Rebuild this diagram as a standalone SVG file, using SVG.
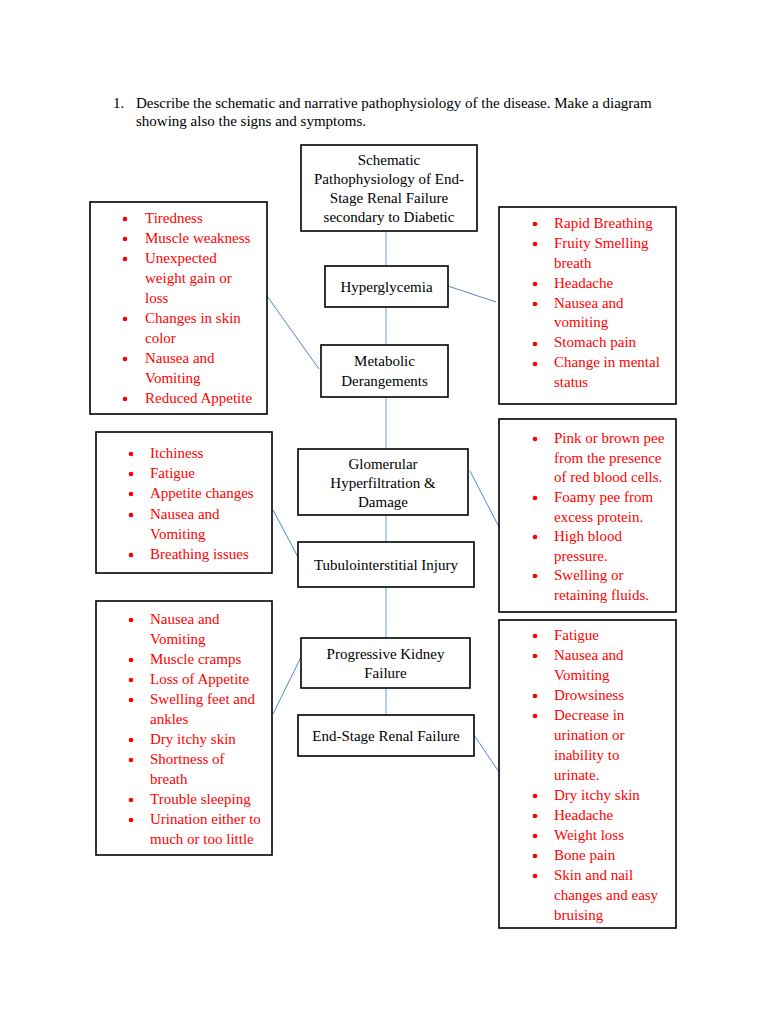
<svg xmlns="http://www.w3.org/2000/svg" width="768" height="1024" viewBox="0 0 768 1024">
<style>
text{font-family:"Liberation Serif","Times New Roman",serif;font-size:15px}
.hd{fill:#000}
.ct{fill:#000;text-anchor:middle}
.rt{fill:#ff0000}
.box{fill:#fff;stroke:#000;stroke-width:1.6}
.vl{stroke:#9dbde6;stroke-width:1.5;fill:none}
.dl{stroke:#5b84cf;stroke-width:1;fill:none}
.bl{fill:#ff0000}
</style>
<rect width="768" height="1024" fill="#fff"/>
<g id="heading">
<text class="hd" x="113" y="108">1.</text>
<text class="hd" x="136" y="108">Describe the schematic and narrative pathophysiology of the disease. Make a diagram</text>
<text class="hd" x="136" y="126">showing also the signs and symptoms.</text>
</g>
<g id="connectors">
<line class="vl" x1="386" y1="232" x2="386" y2="266"/>
<line class="vl" x1="386" y1="307" x2="386" y2="345"/>
<line class="vl" x1="386" y1="397" x2="386" y2="449"/>
<line class="vl" x1="386" y1="515" x2="386" y2="542"/>
<line class="vl" x1="386" y1="587" x2="386" y2="638"/>
<line class="vl" x1="386" y1="688" x2="386" y2="715"/>
<line class="dl" x1="267" y1="296" x2="319" y2="369"/>
<line class="dl" x1="448" y1="286" x2="496" y2="302"/>
<line class="dl" x1="273" y1="510" x2="298" y2="557"/>
<line class="dl" x1="470" y1="471" x2="499" y2="527"/>
<line class="dl" x1="273" y1="714" x2="301" y2="657"/>
<line class="dl" x1="474" y1="735" x2="499" y2="772"/>
</g>
<g id="title">
<rect class="box" x="301" y="145" width="176" height="86"/>
<text class="ct" x="389" y="165">Schematic</text>
<text class="ct" x="389" y="184">Pathophysiology of End-</text>
<text class="ct" x="389" y="203">Stage Renal Failure</text>
<text class="ct" x="389" y="222">secondary to Diabetic</text>
</g>
<g id="hyperglycemia">
<rect class="box" x="325" y="266" width="123" height="41"/>
<text class="ct" x="386.5" y="292">Hyperglycemia</text>
</g>
<g id="metabolic">
<rect class="box" x="321" y="345" width="127" height="52"/>
<text class="ct" x="384.5" y="366">Metabolic</text>
<text class="ct" x="384.5" y="386">Derangements</text>
</g>
<g id="glomerular">
<rect class="box" x="298" y="449" width="170" height="66"/>
<text class="ct" x="383" y="469">Glomerular</text>
<text class="ct" x="383" y="488">Hyperfiltration &amp;</text>
<text class="ct" x="383" y="507">Damage</text>
</g>
<g id="tubulointerstitial">
<rect class="box" x="298" y="542" width="176" height="45"/>
<text class="ct" x="386" y="570">Tubulointerstitial Injury</text>
</g>
<g id="progressive">
<rect class="box" x="301" y="638" width="169" height="50"/>
<text class="ct" x="385.5" y="659">Progressive Kidney</text>
<text class="ct" x="385.5" y="678">Failure</text>
</g>
<g id="endstage">
<rect class="box" x="298" y="715" width="176" height="41"/>
<text class="ct" x="386" y="741">End-Stage Renal Failure</text>
</g>
<g id="left1">
<rect class="box" x="90" y="202" width="177" height="212"/>
<circle class="bl" cx="125" cy="219" r="2.3"/>
<circle class="bl" cx="125" cy="239" r="2.3"/>
<circle class="bl" cx="125" cy="259" r="2.3"/>
<circle class="bl" cx="125" cy="319" r="2.3"/>
<circle class="bl" cx="125" cy="359" r="2.3"/>
<circle class="bl" cx="125" cy="399" r="2.3"/>
<text class="rt" x="145" y="223">Tiredness</text>
<text class="rt" x="145" y="243">Muscle weakness</text>
<text class="rt" x="145" y="263">Unexpected</text>
<text class="rt" x="145" y="283">weight gain or</text>
<text class="rt" x="145" y="303">loss</text>
<text class="rt" x="145" y="323">Changes in skin</text>
<text class="rt" x="145" y="343">color</text>
<text class="rt" x="145" y="363">Nausea and</text>
<text class="rt" x="145" y="383">Vomiting</text>
<text class="rt" x="145" y="403">Reduced Appetite</text>
</g>
<g id="right1">
<rect class="box" x="499" y="207" width="177" height="197"/>
<circle class="bl" cx="535" cy="224" r="2.3"/>
<circle class="bl" cx="535" cy="244" r="2.3"/>
<circle class="bl" cx="535" cy="284" r="2.3"/>
<circle class="bl" cx="535" cy="304" r="2.3"/>
<circle class="bl" cx="535" cy="344" r="2.3"/>
<circle class="bl" cx="535" cy="364" r="2.3"/>
<text class="rt" x="554" y="228">Rapid Breathing</text>
<text class="rt" x="554" y="248">Fruity Smelling</text>
<text class="rt" x="554" y="268">breath</text>
<text class="rt" x="554" y="288">Headache</text>
<text class="rt" x="554" y="308">Nausea and</text>
<text class="rt" x="554" y="327">vomiting</text>
<text class="rt" x="554" y="347">Stomach pain</text>
<text class="rt" x="554" y="367">Change in mental</text>
<text class="rt" x="554" y="387">status</text>
</g>
<g id="left2">
<rect class="box" x="96" y="432" width="176" height="141"/>
<circle class="bl" cx="131" cy="454" r="2.3"/>
<circle class="bl" cx="131" cy="474" r="2.3"/>
<circle class="bl" cx="131" cy="494" r="2.3"/>
<circle class="bl" cx="131" cy="515" r="2.3"/>
<circle class="bl" cx="131" cy="555" r="2.3"/>
<text class="rt" x="150" y="458">Itchiness</text>
<text class="rt" x="150" y="478">Fatigue</text>
<text class="rt" x="150" y="498">Appetite changes</text>
<text class="rt" x="150" y="519">Nausea and</text>
<text class="rt" x="150" y="539">Vomiting</text>
<text class="rt" x="150" y="559">Breathing issues</text>
</g>
<g id="right2">
<rect class="box" x="499" y="419" width="177" height="193"/>
<circle class="bl" cx="535" cy="439" r="2.3"/>
<circle class="bl" cx="535" cy="498" r="2.3"/>
<circle class="bl" cx="535" cy="537" r="2.3"/>
<circle class="bl" cx="535" cy="576" r="2.3"/>
<text class="rt" x="554" y="443">Pink or brown pee</text>
<text class="rt" x="554" y="463">from the presence</text>
<text class="rt" x="554" y="482">of red blood cells.</text>
<text class="rt" x="554" y="502">Foamy pee from</text>
<text class="rt" x="554" y="522">excess protein.</text>
<text class="rt" x="554" y="541">High blood</text>
<text class="rt" x="554" y="561">pressure.</text>
<text class="rt" x="554" y="580">Swelling or</text>
<text class="rt" x="554" y="600">retaining fluids.</text>
</g>
<g id="left3">
<rect class="box" x="96" y="601" width="176" height="254"/>
<circle class="bl" cx="131" cy="620" r="2.3"/>
<circle class="bl" cx="131" cy="660" r="2.3"/>
<circle class="bl" cx="131" cy="680" r="2.3"/>
<circle class="bl" cx="131" cy="700" r="2.3"/>
<circle class="bl" cx="131" cy="740" r="2.3"/>
<circle class="bl" cx="131" cy="760" r="2.3"/>
<circle class="bl" cx="131" cy="800" r="2.3"/>
<circle class="bl" cx="131" cy="820" r="2.3"/>
<text class="rt" x="150" y="624">Nausea and</text>
<text class="rt" x="150" y="644">Vomiting</text>
<text class="rt" x="150" y="664">Muscle cramps</text>
<text class="rt" x="150" y="684">Loss of Appetite</text>
<text class="rt" x="150" y="704">Swelling feet and</text>
<text class="rt" x="150" y="724">ankles</text>
<text class="rt" x="150" y="744">Dry itchy skin</text>
<text class="rt" x="150" y="764">Shortness of</text>
<text class="rt" x="150" y="784">breath</text>
<text class="rt" x="150" y="804">Trouble sleeping</text>
<text class="rt" x="150" y="824">Urination either to</text>
<text class="rt" x="150" y="844">much or too little</text>
</g>
<g id="right3">
<rect class="box" x="499" y="620" width="177" height="308"/>
<circle class="bl" cx="535" cy="636" r="2.3"/>
<circle class="bl" cx="535" cy="656" r="2.3"/>
<circle class="bl" cx="535" cy="696" r="2.3"/>
<circle class="bl" cx="535" cy="716" r="2.3"/>
<circle class="bl" cx="535" cy="796" r="2.3"/>
<circle class="bl" cx="535" cy="816" r="2.3"/>
<circle class="bl" cx="535" cy="836" r="2.3"/>
<circle class="bl" cx="535" cy="856" r="2.3"/>
<circle class="bl" cx="535" cy="876" r="2.3"/>
<text class="rt" x="554" y="640">Fatigue</text>
<text class="rt" x="554" y="660">Nausea and</text>
<text class="rt" x="554" y="680">Vomiting</text>
<text class="rt" x="554" y="700">Drowsiness</text>
<text class="rt" x="554" y="720">Decrease in</text>
<text class="rt" x="554" y="740">urination or</text>
<text class="rt" x="554" y="760">inability to</text>
<text class="rt" x="554" y="780">urinate.</text>
<text class="rt" x="554" y="800">Dry itchy skin</text>
<text class="rt" x="554" y="820">Headache</text>
<text class="rt" x="554" y="840">Weight loss</text>
<text class="rt" x="554" y="860">Bone pain</text>
<text class="rt" x="554" y="880">Skin and nail</text>
<text class="rt" x="554" y="900">changes and easy</text>
<text class="rt" x="554" y="920">bruising</text>
</g>
</svg>
